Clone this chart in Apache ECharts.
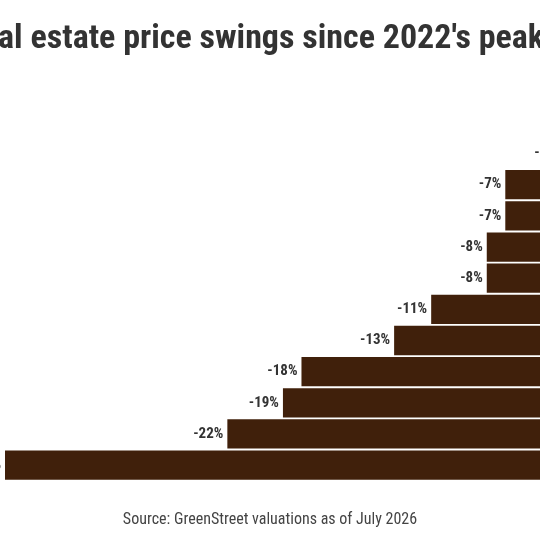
<!DOCTYPE html>
<html>
<head>
<meta charset="utf-8">
<script src="https://cdn.jsdelivr.net/npm/echarts@6/dist/echarts.min.js"></script>
<style>
html,body{margin:0;padding:0;width:540px;height:540px;overflow:hidden;background:#fff;position:relative;}
#chart{position:absolute;left:-150px;top:0;width:840px;height:540px;}
</style>
</head>
<body>
<div id="chart"></div>
<script>
var titleText = "Real estate price swings since 2022's peak";
var sourceText = "Source: GreenStreet valuations as of July 2026";
var categories = ["Industrial", "Strip Retail", "Net Lease", "Health Care", "Self-Storage", "Lodging", "Malls", "Apartment", "Data Centers", "Life Science", "Office"];
var values = [-4, -7, -7, -8, -8, -11, -13, -18, -19, -22, -34];
var xMin = -34, xMax = 0;

var chart = echarts.init(document.getElementById('chart'));
var fontFam = "'Roboto Condensed','Liberation Sans Narrow','DejaVu Sans Condensed',sans-serif";
chart.setOption({
  animation: false,
  title: [
    {text: titleText, left: 108, top: 17,
     textStyle: {fontFamily: fontFam, fontSize: 34, fontWeight: 'bold', color: '#333'}},
    {text: sourceText, left: 'center', top: 507,
     textStyle: {fontFamily: fontFam, fontSize: 16, fontWeight: 'normal', color: '#444'}}
  ],
  grid: {left: 155, right: 55, top: 138, bottom: 59.3, containLabel: false},
  xAxis: {type: 'value', min: xMin, max: xMax, show: false},
  yAxis: {type: 'category', data: categories, inverse: true, show: false},
  series: [{
    type: 'bar', data: values, barCategoryGap: '6%',
    itemStyle: {color: '#40200b'},
    label: {show: true, position: 'left', distance: 4, formatter: '{c}%',
      fontFamily: fontFam, fontSize: 15, fontWeight: 'bold', color: '#333'}
  }]
});
</script>
</body>
</html>
